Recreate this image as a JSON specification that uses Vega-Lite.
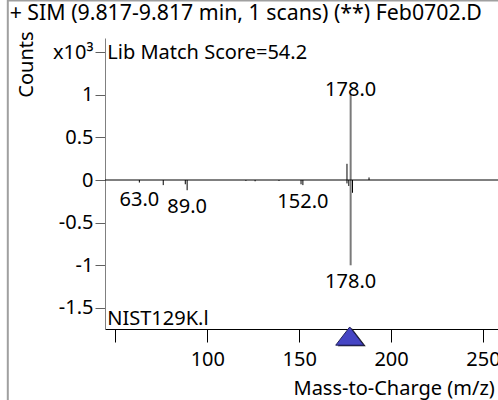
{
  "$schema": "https://vega.github.io/schema/vega-lite/v6.json",
  "width": 393,
  "height": 291,
  "autosize": {"type": "none"},
  "padding": {"left": 105, "top": 38, "right": 0, "bottom": 71},
  "background": "white",
  "config": {
    "view": {"stroke": null},
    "font": "Noto Sans",
    "text": {"font": "Noto Sans", "fontSize": 20, "color": "black"}
  },
  "datasets": {
    "peaks": [
      {"mz": 63, "intensity": -0.03, "label": "63.0"},
      {"mz": 76, "intensity": -0.06},
      {"mz": 88, "intensity": -0.05},
      {"mz": 89, "intensity": -0.12, "label": "89.0"},
      {"mz": 121, "intensity": -0.01},
      {"mz": 126, "intensity": -0.015},
      {"mz": 139, "intensity": -0.01},
      {"mz": 151, "intensity": -0.05},
      {"mz": 152, "intensity": -0.06, "label": "152.0"},
      {"mz": 176, "intensity": -0.04},
      {"mz": 177, "intensity": -0.07},
      {"mz": 178, "intensity": -1.0, "label": "178.0"},
      {"mz": 179, "intensity": -0.15},
      {"mz": 176, "intensity": 0.19},
      {"mz": 178, "intensity": 1.0, "label": "178.0"},
      {"mz": 188, "intensity": 0.03}
    ],
    "notes": [
      {"mz": 45, "y": 1.49, "text": "Lib Match Score=54.2"},
      {"mz": 45, "y": -1.63, "text": "NIST129K.l"}
    ],
    "heading": [
      {"mz": -7.6, "y": 1.95, "text": "+ SIM (9.817-9.817 min, 1 scans) (**) Feb0702.D"}
    ],
    "marker": [
      {"mz": 177.5, "y": -1.83}
    ],
    "frame": [
      {"x1": -8.6, "x2": -8.6, "y1": 2.12, "y2": -2.6},
      {"x1": -8.6, "x2": 262, "y1": 2.105, "y2": 2.105}
    ]
  },
  "layer": [
    {
      "data": {"name": "peaks"},
      "mark": {"type": "rule"},
      "encoding": {
        "x": {
          "field": "mz", "type": "quantitative",
          "scale": {"domain": [44.3, 258.2], "nice": false, "zero": false},
          "axis": {
            "values": [50, 100, 150, 200, 250],
            "labelExpr": "datum.value == 50 ? '' : toString(datum.value)",
            "domainColor": "black",
            "tickColor": "black",
            "tickSize": 13,
            "labelPadding": 7,
            "labelFontSize": 20,
            "labelColor": "black",
            "labelFont": "Noto Sans",
            "grid": false,
            "title": "Mass-to-Charge (m/z)",
            "titleFontSize": 20,
            "titleFontWeight": "normal",
            "titleColor": "black",
            "titleFont": "Noto Sans",
            "titleX": 188,
            "titleY": 59,
            "titleAlign": "left",
            "titleBaseline": "middle"
          }
        },
        "y": {
          "field": "intensity", "type": "quantitative",
          "scale": {"domain": [-1.747, 1.665], "nice": false, "zero": false},
          "axis": {
            "values": [-1.5, -1, -0.5, 0, 0.5, 1, 1.5],
            "labelExpr": "datum.value == 1.5 ? 'x10³' : toString(datum.value)",
            "domainColor": "#808080",
            "tickColor": "#606060",
            "tickSize": 10,
            "labelPadding": 2,
            "labelFontSize": 20,
            "labelColor": "black",
            "labelFont": "Noto Sans",
            "grid": false,
            "title": "Counts",
            "titleFontSize": 20,
            "titleFontWeight": "normal",
            "titleColor": "black",
            "titleFont": "Noto Sans",
            "titleX": -79,
            "titleY": 26,
            "titleAngle": -90,
            "titleAlign": "center",
            "titleBaseline": "middle"
          }
        },
        "y2": {"datum": 0},
        "color": {"condition": {"test": "datum.mz == 178", "value": "#7a7a7a"}, "value": "black"},
        "strokeWidth": {"condition": {"test": "datum.mz == 178", "value": 2}, "value": 1}
      }
    },
    {
      "data": {"values": [{"z": 0}]},
      "mark": {"type": "rule", "color": "black", "strokeWidth": 1},
      "encoding": {
        "y": {"datum": 0, "type": "quantitative"}
      }
    },
    {
      "data": {"name": "frame"},
      "mark": {"type": "rule", "color": "#a0a0a0", "strokeWidth": 2},
      "encoding": {
        "x": {"field": "x1", "type": "quantitative"},
        "x2": {"field": "x2"},
        "y": {"field": "y1", "type": "quantitative"},
        "y2": {"field": "y2"}
      }
    },
    {
      "data": {"name": "peaks"},
      "transform": [{"filter": "datum.label != null && datum.intensity > 0"}],
      "mark": {"type": "text", "baseline": "alphabetic", "align": "center", "dy": 1},
      "encoding": {
        "x": {"field": "mz", "type": "quantitative"},
        "y": {"field": "intensity", "type": "quantitative"},
        "text": {"field": "label"}
      }
    },
    {
      "data": {"name": "peaks"},
      "transform": [{"filter": "datum.label != null && datum.intensity < 0"}],
      "mark": {"type": "text", "baseline": "top", "align": "center", "dy": 7},
      "encoding": {
        "x": {"field": "mz", "type": "quantitative"},
        "y": {"field": "intensity", "type": "quantitative"},
        "text": {"field": "label"}
      }
    },
    {
      "data": {"name": "notes"},
      "mark": {"type": "text", "baseline": "middle", "align": "left", "dx": 1},
      "encoding": {
        "x": {"field": "mz", "type": "quantitative"},
        "y": {"field": "y", "type": "quantitative"},
        "text": {"field": "text"}
      }
    },
    {
      "data": {"name": "heading"},
      "mark": {"type": "text", "baseline": "middle", "align": "left", "fontSize": 21.3},
      "encoding": {
        "x": {"field": "mz", "type": "quantitative"},
        "y": {"field": "y", "type": "quantitative"},
        "text": {"field": "text"}
      }
    },
    {
      "data": {"name": "marker"},
      "mark": {"type": "point", "shape": "M-1,0.65L1,0.65L0,-0.65Z", "size": 784, "filled": true, "color": "#1a1a1a", "opacity": 1, "xOffset": 2, "yOffset": 1},
      "encoding": {
        "x": {"field": "mz", "type": "quantitative"},
        "y": {"field": "y", "type": "quantitative"}
      }
    },
    {
      "data": {"name": "marker"},
      "mark": {"type": "point", "shape": "M-1,0.65L1,0.65L0,-0.65Z", "size": 784, "filled": true, "fill": "#4545c4", "stroke": "#20205a", "strokeWidth": 1, "opacity": 1},
      "encoding": {
        "x": {"field": "mz", "type": "quantitative"},
        "y": {"field": "y", "type": "quantitative"}
      }
    }
  ]
}
